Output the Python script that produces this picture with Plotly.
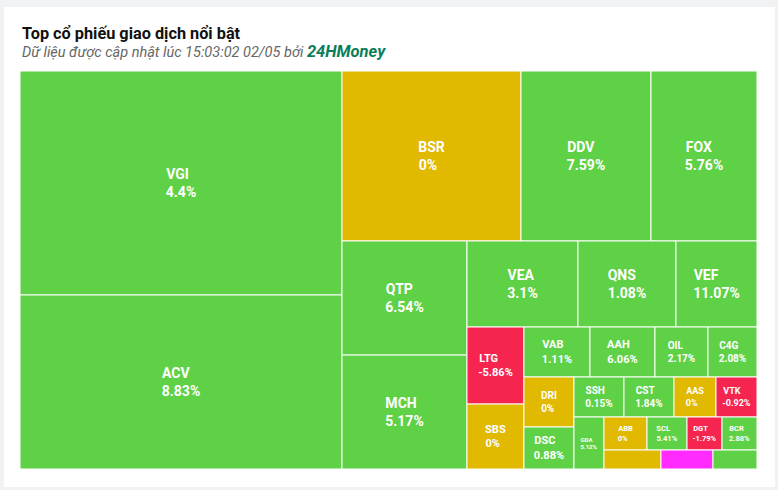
import plotly.graph_objects as go

# ---- data ----
tickers = ["VGI", "ACV", "BSR", "DDV", "FOX", "QTP", "MCH", "VEA", "QNS", "VEF",
           "LTG", "SBS", "VAB", "AAH", "OIL", "C4G", "DRI", "DSC", "SSH", "CST",
           "AAS", "VTK", "GDA", "ABB", "SCL", "DGT", "BCR", " ", "  ", "   "]
values = [72130, 56030, 30430, 22100, 18020, 14260, 14240, 9550, 8430, 6970,
          4390, 3700, 3300, 3250, 2650, 2450, 2500, 2100, 2000, 2000,
          1680, 1640, 1560, 1420, 1320, 1155, 1155, 1083, 988, 836]
changes = ["4.4%", "8.83%", "0%", "7.59%", "5.76%", "6.54%", "5.17%", "3.1%", "1.08%", "11.07%",
           "-5.86%", "0%", "1.11%", "6.06%", "2.17%", "2.08%", "0%", "0.88%", "0.15%", "1.84%",
           "0%", "-0.92%", "5.12%", "0%", "5.41%", "-1.79%", "2.88%", "", "", ""]
status = ["up", "up", "ref", "up", "up", "up", "up", "up", "up", "up",
          "down", "ref", "up", "up", "up", "up", "ref", "up", "up", "up",
          "ref", "down", "up", "ref", "up", "down", "up", "ref", "ceil", "up"]

# number of tiles in each alternating strip (column, row, column, row, ...)
strips = [2, 3, 2, 3, 2, 4, 2, 4, 1, 4, 3]

palette = {"up": "#5fd146", "ref": "#e0b900", "down": "#f52550", "ceil": "#ff2bff"}
font_sizes = [14, 14, 14, 14, 14, 14, 14, 14, 14, 14,
              11, 11, 11, 11, 10, 10, 10, 11, 10, 10,
              9, 9, 6, 7.5, 7.5, 7.5, 7.5, 7, 7, 7]

# approximate glyph widths (em) of Roboto Bold, used to left-align the two label lines
CW = {"0": .562, "1": .562, "2": .562, "3": .562, "4": .562, "5": .562, "6": .562,
      "7": .562, "8": .562, "9": .562, ".": .27, "%": .73, "-": .28,
      "A": .66, "B": .63, "C": .65, "D": .65, "E": .57, "F": .56, "G": .68, "H": .72,
      "I": .28, "K": .64, "L": .54, "M": .88, "N": .72, "O": .69, "P": .64, "Q": .69,
      "R": .63, "S": .61, "T": .62, "V": .66, "X": .64}
NBSP_W = 0.248


def text_w(s):
    return sum(CW.get(ch, .6) for ch in s)


def label_text(t, c):
    if not c:
        return ""
    a, b = text_w(t), text_w(c)
    n = int(round(abs(a - b) / NBSP_W))
    pad = "\u00a0" * n
    if a < b:
        t = t + pad
    else:
        c = c + pad
    return f"<b>{t}<br>{c}</b>"


# ---- build hierarchy of alternating strips ----
ids, parents, labels, vals, texts, cols, lws, fsz = [], [], [], [], [], [], [], []


def add_group(gid, pid):
    ids.append(gid); parents.append(pid); labels.append(""); vals.append(0)
    texts.append(""); cols.append("rgba(0,0,0,0)"); lws.append(0); fsz.append(10)


def add_leaf(i, pid):
    ids.append("leaf%d" % i); parents.append(pid); labels.append(tickers[i])
    vals.append(values[i])
    texts.append(label_text(tickers[i], changes[i]))
    cols.append(palette[status[i]]); lws.append(1); fsz.append(font_sizes[i])


add_group("root", "")
container = "root"
idx = 0
for k, n in enumerate(strips):
    if n == 1:
        add_leaf(idx, container)
    else:
        gid = "strip%d" % k
        add_group(gid, container)
        for j in range(n):
            add_leaf(idx + j, gid)
    idx += n
    if k < len(strips) - 2:
        rid = "rest%d" % k
        add_group(rid, container)
        container = rid

W, H = 778, 490
x0, x1, y0, y1 = 20, 757, 71, 469

fig = go.Figure(go.Treemap(
    ids=ids,
    labels=labels,
    parents=parents,
    values=vals,
    branchvalues="remainder",
    text=texts,
    texttemplate="%{text}",
    textposition="middle center",
    textfont=dict(family="Roboto, Arial, sans-serif", color="white", size=fsz),
    marker=dict(colors=cols, line=dict(color="white", width=lws),
                pad=dict(t=0, l=0, r=0, b=0)),
    tiling=dict(packing="slice-dice", pad=0),
    pathbar=dict(visible=False),
    sort=False,
    maxdepth=-1,
    hoverinfo="skip",
    domain=dict(x=[x0 / W, x1 / W], y=[1 - y1 / H, 1 - y0 / H]),
))

fig.update_layout(
    width=W, height=H,
    margin=dict(l=0, r=0, t=0, b=0),
    paper_bgcolor="#f1f2f4",
    font=dict(family="Roboto, Arial, sans-serif"),
    shapes=[dict(type="rect", xref="paper", yref="paper",
                 x0=4 / W, x1=775 / W, y0=1 - 487 / H, y1=1 - 7 / H,
                 fillcolor="white", line=dict(width=0), layer="below")],
    annotations=[
        dict(text="<b>Top cổ phiếu giao dịch nổi bật</b>", xref="paper", yref="paper",
             x=20 / W, y=1 - 33 / H, xanchor="left", yanchor="middle", showarrow=False,
             font=dict(size=16.3, color="#111111", family="Roboto, Arial, sans-serif")),
        dict(text="<i>Dữ liệu được cập nhật lúc 15:03:02 02/05 bởi </i>"
                  "<span style='font-size:16.5px;color:#0c7d5b'><b><i>24HMoney</i></b></span>",
             xref="paper", yref="paper",
             x=20 / W, y=1 - 52 / H, xanchor="left", yanchor="middle", showarrow=False,
             font=dict(size=14.5, color="#666666", family="Roboto, Arial, sans-serif")),
    ],
)

fig.write_html("out.html", config={"displayModeBar": False},
               post_script="document.body.style.margin='0';")
